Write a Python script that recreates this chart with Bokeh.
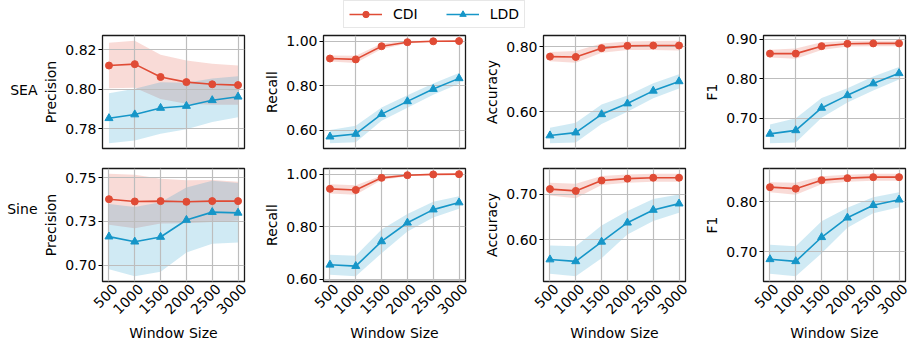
import numpy as np
from bokeh.plotting import figure
from bokeh.layouts import column, row
from bokeh.models import (Range1d, FixedTicker, Legend, LegendItem, PrintfTickFormatter,
                          LinearAxis)
from bokeh.core.properties import value
from bokeh.embed import file_html
from bokeh.resources import INLINE

# ---------------- data ----------------
windows = [500, 1000, 1500, 2000, 2500, 3000]
row1_xticks = [1000, 2000, 3000]
x_tick_labels = ["500", "1000", "1500", "2000", "2500", "3000"]
methods = ["CDI", "LDD"]
datasets = ["SEA", "Sine"]
metrics = ["Precision", "Recall", "Accuracy", "F1"]

# SEA
sea_precision_cdi = [0.8119, 0.8126, 0.8061, 0.8035, 0.8024, 0.8020]
sea_precision_cdi_sd = [0.0115, 0.0119, 0.0112, 0.0110, 0.0104, 0.0099]
sea_precision_ldd = [0.7852, 0.7871, 0.7904, 0.7914, 0.7943, 0.7961]
sea_precision_ldd_sd = [0.0127, 0.0131, 0.0130, 0.0118, 0.0110, 0.0104]

sea_recall_cdi = [0.922, 0.918, 0.977, 0.995, 0.999, 1.000]
sea_recall_cdi_sd = [0.013, 0.016, 0.012, 0.006, 0.003, 0.002]
sea_recall_ldd = [0.572, 0.584, 0.673, 0.730, 0.785, 0.833]
sea_recall_ldd_sd = [0.030, 0.037, 0.030, 0.028, 0.025, 0.024]

sea_accuracy_cdi = [0.769, 0.768, 0.795, 0.802, 0.803, 0.803]
sea_accuracy_cdi_sd = [0.014, 0.018, 0.014, 0.013, 0.014, 0.015]
sea_accuracy_ldd = [0.527, 0.536, 0.592, 0.625, 0.664, 0.693]
sea_accuracy_ldd_sd = [0.024, 0.030, 0.030, 0.025, 0.023, 0.022]

sea_f1_cdi = [0.864, 0.864, 0.883, 0.889, 0.890, 0.890]
sea_f1_cdi_sd = [0.010, 0.013, 0.010, 0.007, 0.007, 0.007]
sea_f1_ldd = [0.660, 0.669, 0.726, 0.758, 0.788, 0.814]
sea_f1_ldd_sd = [0.024, 0.031, 0.025, 0.018, 0.018, 0.016]

# Sine
sine_precision_cdi = [0.7377, 0.7364, 0.7366, 0.7362, 0.7366, 0.7366]
sine_precision_cdi_sd = [0.0146, 0.0153, 0.0128, 0.0123, 0.0120, 0.0111]
sine_precision_ldd = [0.7163, 0.7134, 0.7161, 0.7258, 0.7303, 0.7299]
sine_precision_ldd_sd = [0.0186, 0.0198, 0.0199, 0.0186, 0.0180, 0.0170]

sine_recall_cdi = [0.944, 0.940, 0.986, 0.996, 0.999, 1.000]
sine_recall_cdi_sd = [0.018, 0.018, 0.008, 0.004, 0.002, 0.002]
sine_recall_ldd = [0.655, 0.650, 0.744, 0.815, 0.865, 0.892]
sine_recall_ldd_sd = [0.038, 0.039, 0.045, 0.033, 0.030, 0.024]

sine_accuracy_cdi = [0.711, 0.707, 0.730, 0.734, 0.736, 0.736]
sine_accuracy_cdi_sd = [0.014, 0.016, 0.010, 0.009, 0.009, 0.009]
sine_accuracy_ldd = [0.556, 0.552, 0.595, 0.637, 0.665, 0.679]
sine_accuracy_ldd_sd = [0.031, 0.033, 0.036, 0.026, 0.024, 0.020]

sine_f1_cdi = [0.829, 0.826, 0.843, 0.847, 0.849, 0.849]
sine_f1_cdi_sd = [0.010, 0.012, 0.008, 0.007, 0.007, 0.007]
sine_f1_ldd = [0.685, 0.681, 0.729, 0.768, 0.793, 0.804]
sine_f1_ldd_sd = [0.029, 0.030, 0.032, 0.020, 0.016, 0.015]

# y ticks
sea_precision_ticks = [0.78, 0.80, 0.82]
sea_precision_tick_labels = ["0.78", "0.80", "0.82"]
sea_recall_ticks = [0.60, 0.80, 1.00]
sea_recall_tick_labels = ["0.60", "0.80", "1.00"]
sea_accuracy_ticks = [0.60, 0.80]
sea_accuracy_tick_labels = ["0.60", "0.80"]
sea_f1_ticks = [0.70, 0.80, 0.90]
sea_f1_tick_labels = ["0.70", "0.80", "0.90"]
sine_precision_ticks = [0.700, 0.725, 0.750]
sine_precision_tick_labels = ["0.70", "0.73", "0.75"]
sine_recall_ticks = [0.60, 0.80, 1.00]
sine_recall_tick_labels = ["0.60", "0.80", "1.00"]
sine_accuracy_ticks = [0.60, 0.70]
sine_accuracy_tick_labels = ["0.60", "0.70"]
sine_f1_ticks = [0.70, 0.80]
sine_f1_tick_labels = ["0.70", "0.80"]

panels = [
    [
        (sea_precision_cdi, sea_precision_cdi_sd, sea_precision_ldd, sea_precision_ldd_sd, sea_precision_ticks, sea_precision_tick_labels),
        (sea_recall_cdi, sea_recall_cdi_sd, sea_recall_ldd, sea_recall_ldd_sd, sea_recall_ticks, sea_recall_tick_labels),
        (sea_accuracy_cdi, sea_accuracy_cdi_sd, sea_accuracy_ldd, sea_accuracy_ldd_sd, sea_accuracy_ticks, sea_accuracy_tick_labels),
        (sea_f1_cdi, sea_f1_cdi_sd, sea_f1_ldd, sea_f1_ldd_sd, sea_f1_ticks, sea_f1_tick_labels),
    ],
    [
        (sine_precision_cdi, sine_precision_cdi_sd, sine_precision_ldd, sine_precision_ldd_sd, sine_precision_ticks, sine_precision_tick_labels),
        (sine_recall_cdi, sine_recall_cdi_sd, sine_recall_ldd, sine_recall_ldd_sd, sine_recall_ticks, sine_recall_tick_labels),
        (sine_accuracy_cdi, sine_accuracy_cdi_sd, sine_accuracy_ldd, sine_accuracy_ldd_sd, sine_accuracy_ticks, sine_accuracy_tick_labels),
        (sine_f1_cdi, sine_f1_cdi_sd, sine_f1_ldd, sine_f1_ldd_sd, sine_f1_ticks, sine_f1_tick_labels),
    ],
]

# ---------------- style ----------------
FONT = "DejaVu Sans"
FS = "14px"
CDI_COLOR = "#E04B35"
LDD_COLOR = "#1696C8"
colors = {"CDI": CDI_COLOR, "LDD": LDD_COLOR}
markers = {"CDI": "circle", "LDD": "triangle"}
msizes = {"CDI": 7, "LDD": 8}
FW, FH = 142, 113
STRIP_W = 40
left_borders = [57, 72, 71, 71]
right_borders = [7, 7, 7, 8]
top_borders = [5, 10]
bottom_borders = [10, 60]
LEG_H = 30
LABEL_SHIFT_PX = 6  # nudges rotated tick labels toward being centred under their ticks


def style_axis(ax):
    ax.axis_line_color = None
    ax.major_tick_line_color = "#000000"
    ax.major_tick_line_width = 1
    ax.major_tick_in = 0
    ax.major_tick_out = 4
    ax.minor_tick_line_color = None
    ax.major_label_text_font = FONT
    ax.major_label_text_font_size = FS
    ax.major_label_text_color = "#000000"
    ax.axis_label_text_font = FONT
    ax.axis_label_text_font_size = FS
    ax.axis_label_text_font_style = "normal"
    ax.axis_label_text_color = "#000000"


def make_panel(ri, ci, cdi_m, cdi_s, ldd_m, ldd_s, ticks, tick_labels):
    series = {"CDI": (np.array(cdi_m), np.array(cdi_s)), "LDD": (np.array(ldd_m), np.array(ldd_s))}
    lo = min((m - s).min() for m, s in series.values())
    hi = max((m + s).max() for m, s in series.values())
    pad = 0.05 * (hi - lo)
    x0, x1 = min(windows), max(windows)
    xpad = 0.05 * (x1 - x0)
    p = figure(frame_width=FW, frame_height=FH,
               x_range=Range1d(x0 - xpad, x1 + xpad), y_range=Range1d(lo - pad, hi + pad),
               output_backend="svg", toolbar_location=None,
               min_border_left=left_borders[ci], min_border_right=right_borders[ci],
               min_border_top=top_borders[ri], min_border_bottom=bottom_borders[ri])
    p.background_fill_color = "white"
    p.border_fill_color = "white"
    p.outline_line_color = "#1a1a1a"
    p.outline_line_width = 1.3
    p.outline_line_alpha = 1.0

    for name in methods:
        m, s = series[name]
        p.varea(x=windows, y1=list(m - s), y2=list(m + s), fill_color=colors[name],
                fill_alpha=0.2, level="image")
    for name in methods:
        m, s = series[name]
        p.line(windows, list(m), line_color=colors[name], line_width=1.6)
        p.scatter(windows, list(m), marker=markers[name], size=msizes[name],
                  fill_color=colors[name], line_color=colors[name])

    yt = FixedTicker(ticks=ticks)
    p.yaxis.ticker = yt
    p.ygrid.ticker = yt
    p.yaxis.formatter = PrintfTickFormatter(format="%.2f")
    p.yaxis.major_label_overrides = {t: l for t, l in zip(ticks, tick_labels)}
    p.yaxis.axis_label = metrics[ci]
    style_axis(p.yaxis[0])
    p.yaxis.major_label_standoff = 2
    p.yaxis.axis_label_standoff = 3

    xt = FixedTicker(ticks=row1_xticks if ri == 0 else windows)
    p.xgrid.ticker = xt
    p.xaxis.visible = False
    if ri == 1:
        span = (x1 + xpad) - (x0 - xpad)
        d = min(LABEL_SHIFT_PX * span / FW, 0.95 * xpad)
        p.extra_x_ranges = {"lab": Range1d(x0 - xpad - d, x1 + xpad - d)}
        ax = LinearAxis(x_range_name="lab", ticker=FixedTicker(ticks=windows),
                        axis_label="Window Size", major_label_orientation=np.pi / 4,
                        major_label_overrides={w: l for w, l in zip(windows, x_tick_labels)})
        style_axis(ax)
        ax.major_tick_out = 0
        ax.major_label_standoff = 5
        ax.axis_label_standoff = 3
        p.add_layout(ax, "below")

    p.grid.grid_line_color = "#bdbdbd"
    p.grid.grid_line_width = 1.2
    return p


def make_strip(ri):
    h = top_borders[ri] + FH + bottom_borders[ri]
    s = figure(width=STRIP_W, height=h, output_backend="svg", toolbar_location=None,
               x_axis_type=None, y_axis_type=None, min_border=0,
               x_range=Range1d(0, STRIP_W), y_range=Range1d(0, h))
    s.outline_line_color = None
    s.background_fill_color = "white"
    s.border_fill_color = "white"
    s.text(x=[STRIP_W - 3], y=[h - top_borders[ri] - FH / 2], text=[datasets[ri]],
           text_align="right", text_baseline="middle",
           text_font=value(FONT), text_font_size=value(FS), text_color="#000000")
    return s


rows = []
for ri in range(2):
    figs = [make_strip(ri)]
    for ci in range(4):
        figs.append(make_panel(ri, ci, *panels[ri][ci]))
    rows.append(row(*figs))

# ---------------- legend strip ----------------
leg = figure(width=908, height=LEG_H, output_backend="svg", toolbar_location=None,
             x_axis_type=None, y_axis_type=None, min_border=0,
             x_range=Range1d(0, 1), y_range=Range1d(0, 1))
leg.outline_line_color = None
leg.background_fill_color = "white"
leg.border_fill_color = "white"
items = []
for name in methods:
    # dummy glyphs kept outside the visible range; only their legend swatches show
    ln = leg.line([5, 6], [5, 6], line_color=colors[name], line_width=1.6)
    sc = leg.scatter([5], [5], marker=markers[name], size=msizes[name],
                     fill_color=colors[name], line_color=colors[name])
    items.append(LegendItem(label=name, renderers=[ln, sc]))
legend = Legend(items=items, orientation="horizontal", location=(343, 2),
                label_text_font=FONT, label_text_font_size=FS, label_text_color="#000000",
                glyph_width=33, glyph_height=16, label_height=16, label_standoff=11, spacing=28,
                padding=5, margin=0, border_line_color="#d0d0d0", border_line_width=1,
                background_fill_color="white", background_fill_alpha=1.0)
leg.add_layout(legend, "center")

layout = column(leg, rows[0], rows[1])

open("out.html", "w").write(file_html(layout, INLINE))
